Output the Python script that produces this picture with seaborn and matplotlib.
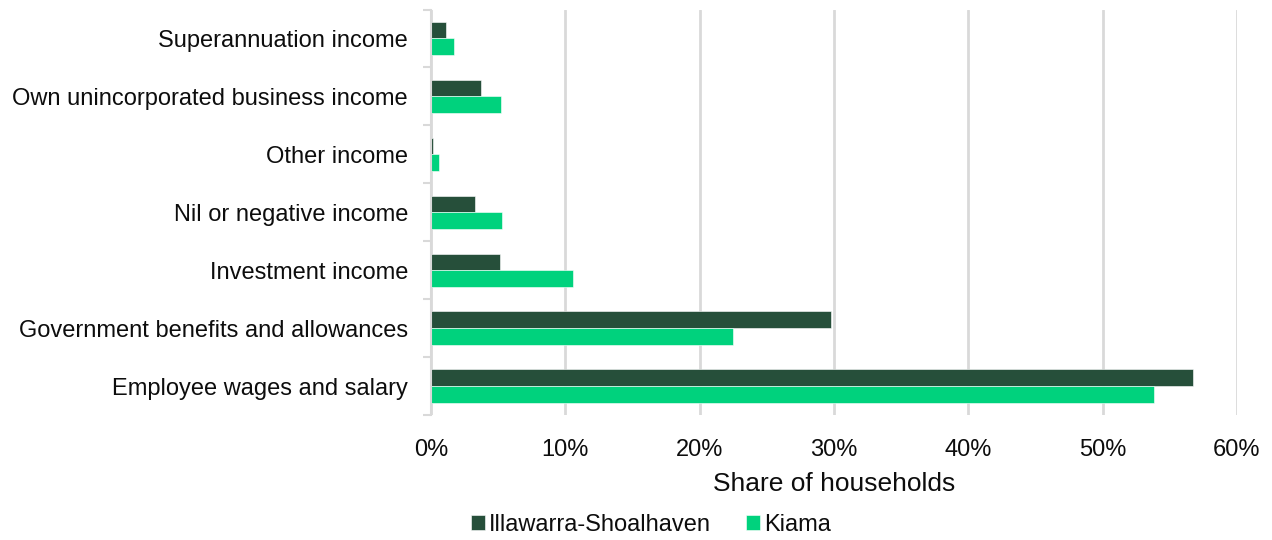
import numpy as np
import pandas as pd
import matplotlib
matplotlib.use("Agg")
import matplotlib.pyplot as plt
import seaborn as sns
from matplotlib.ticker import FixedLocator, PercentFormatter

# Household income sources (share of households, %)
categories = [
    "Superannuation income",
    "Own unincorporated business income",
    "Other income",
    "Nil or negative income",
    "Investment income",
    "Government benefits and allowances",
    "Employee wages and salary",
]
illawarra = [1.1, 3.7, 0.15, 3.25, 5.1, 29.8, 56.7]
kiama = [1.7, 5.2, 0.6, 5.3, 10.6, 22.5, 53.8]
series_names = ["Illawarra-Shoalhaven", "Kiama"]
x_ticks = [0, 10, 20, 30, 40, 50, 60]

dark_green = "#264f3a"
bright_green = "#00d27d"
grid_grey = "#d9d9d9"
text_color = "#0d0d0d"

df = pd.DataFrame({
    "category": categories * 2,
    "share": illawarra + kiama,
    "region": [series_names[0]] * len(categories) + [series_names[1]] * len(categories),
})

sns.set_theme(style="white")
plt.rcParams["font.family"] = ["Liberation Sans", "DejaVu Sans"]
plt.rcParams["text.color"] = text_color

fig = plt.figure(figsize=(12.72, 5.40), dpi=100)
ax = fig.add_axes([431 / 1272, 1 - 415 / 540, (1237 - 431) / 1272, (415 - 9.5) / 540])

sns.barplot(
    data=df, y="category", x="share", hue="region", order=categories,
    hue_order=series_names, palette=[dark_green, bright_green],
    orient="h", width=0.575, ax=ax, legend=True,
    edgecolor="white", linewidth=0.4, saturation=1,
)

ax.set_xlim(0, 60)
ax.set_ylim(len(categories) - 0.5, -0.5)
ax.xaxis.set_major_locator(FixedLocator(x_ticks))
ax.xaxis.set_major_formatter(PercentFormatter(decimals=0))
ax.grid(axis="x", color=grid_grey, linewidth=2)
ax.set_axisbelow(True)

for side in ["top", "right", "bottom"]:
    ax.spines[side].set_visible(False)
ax.spines["left"].set_color(grid_grey)
ax.spines["left"].set_linewidth(1.5)

ax.tick_params(axis="x", length=0, pad=17, labelsize=17, labelcolor=text_color)
ax.tick_params(axis="y", which="major", length=0, pad=16.5, labelsize=17, labelcolor=text_color)
ax.yaxis.set_minor_locator(FixedLocator(np.arange(-0.5, len(categories), 1.0)))
ax.tick_params(axis="y", which="minor", length=6, width=1.5, color=grid_grey, left=True)

ax.set_ylabel("")
ax.set_xlabel("Share of households", fontsize=19, color=text_color, labelpad=8)

handles, labels = ax.get_legend_handles_labels()
ax.legend_.remove()
leg = fig.legend(
    handles, labels, loc="center", bbox_to_anchor=(651 / 1272, 1 - 525 / 540),
    ncol=2, frameon=False, fontsize=17, handlelength=0.6, handleheight=0.6,
    handletextpad=0.15, columnspacing=1.5,
)
for t in leg.get_texts():
    t.set_color(text_color)

fig.savefig("out.png", dpi=100)
